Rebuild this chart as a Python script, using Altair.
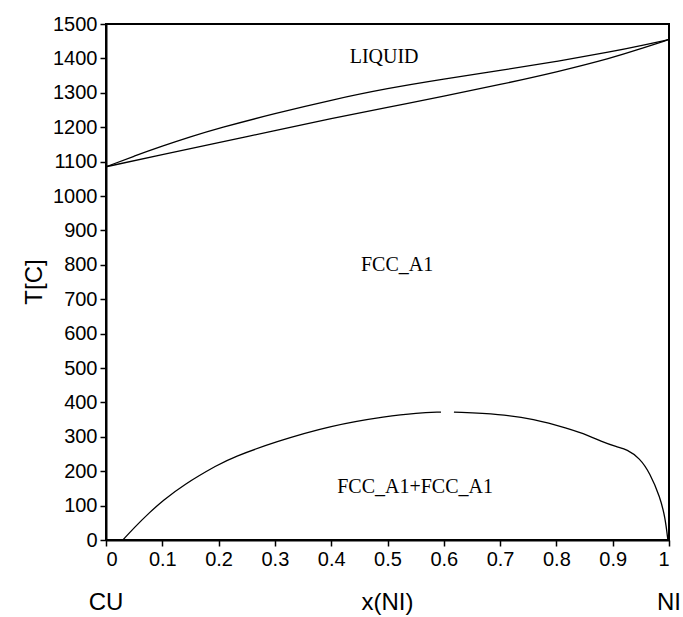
import altair as alt
import pandas as pd

# Liquidus (upper) and solidus (lower) boundaries of Cu-Ni
liq_x = [0.0, 0.05, 0.1, 0.15, 0.2, 0.3, 0.4, 0.5, 0.6, 0.7, 0.8, 0.9, 0.95, 1.0]
liq_t = [1085, 1116, 1145, 1172, 1197, 1240, 1279, 1313, 1340, 1365, 1391, 1420, 1437, 1455]
sol_x = [0.0, 0.1, 0.2, 0.3, 0.4, 0.5, 0.6, 0.7, 0.8, 0.9, 0.95, 1.0]
sol_t = [1085, 1120, 1155, 1190, 1225, 1258, 1290, 1324, 1360, 1402, 1428, 1455]

# Miscibility gap (two pieces, with a small break near x=0.6)
mis1_x = [0.03, 0.05, 0.078, 0.1, 0.137, 0.2, 0.226, 0.3, 0.4, 0.5, 0.552, 0.595]
mis1_t = [0, 36, 81, 113, 160, 220, 241, 285, 333, 360, 369, 372]
mis2_x = [0.618, 0.7, 0.759, 0.819, 0.86, 0.877, 0.908, 0.925, 0.948, 0.966, 0.984, 0.993, 0.998]
mis2_t = [372, 366, 352, 325, 302, 288, 270, 264, 238, 195, 125, 67, 0]

labels = ["LIQUID", "FCC_A1", "FCC_A1+FCC_A1"]
label_x = [0.494, 0.517, 0.549]
label_t = [1404, 800, 154]

bottom_texts = ["CU", "x(NI)", "NI"]
bottom_x = [0.0, 0.5, 1.0]

x_ticks = [round(i / 10, 1) for i in range(11)]
y_ticks = [float(v) for v in range(0, 1501, 100)]

rows = []
for name, xs, ts in [("liq", liq_x, liq_t), ("sol", sol_x, sol_t),
                     ("mis1", mis1_x, mis1_t), ("mis2", mis2_x, mis2_t)]:
    for i, (a, b) in enumerate(zip(xs, ts)):
        rows.append({"series": name, "x": a, "T": b, "o": i})
df = pd.DataFrame(rows)
lab_df = pd.DataFrame({"label": labels, "x": label_x, "T": label_t})
bot_df = pd.DataFrame({"label": bottom_texts, "x": bottom_x})

xscale = alt.Scale(domain=[0, 1], nice=False)
yscale = alt.Scale(domain=[0, 1500], nice=False)

axis_common = dict(grid=False, domainColor="black", domainWidth=2,
                   tickColor="black", tickWidth=1.5, tickSize=6,
                   labelFont="Liberation Sans", labelFontSize=20, labelColor="black",
                   labelPadding=3, labelOverlap=False, title=None)

X = alt.X("x:Q", scale=xscale, axis=alt.Axis(values=x_ticks, format="~g", **axis_common))
Y = alt.Y("T:Q", scale=yscale,
          axis=alt.Axis(values=y_ticks, format="d", tickCount=16, **axis_common))

lines = alt.Chart(df).mark_line(color="black", strokeWidth=1.3, interpolate="basis").encode(
    x=X, y=Y, detail="series:N", order="o:Q",
)

texts = alt.Chart(lab_df).mark_text(font="Liberation Serif", fontSize=20, color="black").encode(
    x=X, y=Y, text="label:N",
)

bottom = alt.Chart(bot_df).mark_text(font="Liberation Sans", fontSize=24, color="black",
                                     baseline="middle").encode(
    x=X, y=alt.value(579), text="label:N",
)

ytitle = alt.Chart(pd.DataFrame({"t": ["T[C]"]})).mark_text(
    font="Liberation Sans", fontSize=24, color="black", angle=270, baseline="middle"
).encode(x=alt.value(-71), y=alt.value(258), text="t:N")

chart = alt.layer(lines, texts, bottom, ytitle).properties(
    width=563, height=516,
    autosize=alt.AutoSizeParams(type="none"),
    padding={"left": 106, "top": 24, "right": 14, "bottom": 77},
    background="white",
).configure_view(stroke="black", strokeWidth=2)

chart.save("out.html", embed_options={"renderer": "svg", "actions": False})
